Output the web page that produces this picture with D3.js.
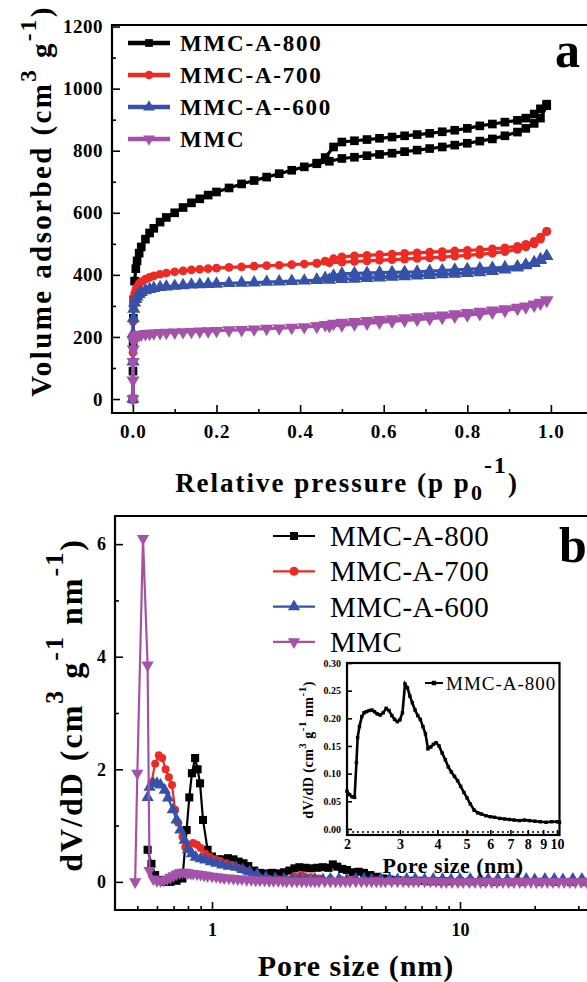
<!DOCTYPE html>
<html><head><meta charset="utf-8">
<script src="https://cdn.jsdelivr.net/npm/d3@7"></script>
<style>body{margin:0;background:#fff}svg{display:block}</style>
</head><body><svg id="c" width="587" height="982"></svg>
<script>
// ---------------- DATA ----------------
const legendA = ["MMC-A-800","MMC-A-700","MMC-A--600","MMC"];
const legendB = ["MMC-A-800","MMC-A-700","MMC-A-600","MMC"];
const colors = ["#000000","#ee2a24","#3551aa","#a452a9"];

// Panel a: N2 isotherms (relative pressure, volume adsorbed)
const adsP = [0,0.0002,0.0005,0.001,0.002,0.004,0.007,0.01,0.015,0.02,0.03,0.04,0.05,0.065,0.08,0.1,0.12,0.14,0.16,0.18,0.2,0.23,0.26,0.29,0.32,0.35,0.38,0.41,0.44,0.47,0.5,0.53,0.56,0.59,0.62,0.65,0.68,0.71,0.74,0.77,0.8,0.83,0.86,0.89,0.92,0.94,0.96,0.975,0.99];
const ads800 = [0,90,180,260,320,380,420,445,470,490,515,535,550,570,585,600,617,632,645,657,667,680,693,704,715,726,737,748,758,766,775,779,784,788,792,797,802,807,812,818,824,831,838,848,860,872,888,905,945];
const ads700 = [0,150,250,300,320,340,352,362,372,378,386,392,397,402,406,410,413,416,418,420,422,424,426,428,430,431,433,435,437,439,441,443,445,447,449,451,453,455,457,460,463,466,470,475,482,490,500,515,540];
const ads600 = [0,120,210,260,290,310,322,330,338,344,350,354,357,360,362,364,366,368,369,370,371,373,374,375,377,378,380,381,383,384,386,387,389,391,393,395,397,399,401,403,405,408,412,417,423,430,438,447,460];
const adsMMC = [0,60,120,160,185,198,203,205,207,208,210,211,212,213,214,215,216,217,218,219,220,222,223,225,227,228,230,232,234,236,238,241,244,247,250,253,256,259,262,266,270,274,279,285,291,296,302,308,318];
const desP = [0.99,0.975,0.96,0.94,0.92,0.89,0.86,0.83,0.8,0.77,0.74,0.71,0.68,0.65,0.62,0.59,0.56,0.53,0.5,0.48,0.46,0.44];
const des800 = [950,935,918,905,898,892,886,880,872,866,861,856,852,848,844,840,836,832,828,812,778,760];
const des700 = [540,522,508,498,492,487,484,481,479,477,475,473,471,469,467,465,463,461,458,452,444,438];
const des600 = [460,450,440,432,427,424,422,420,418,416,414,412,410,409,408,407,406,405,403,397,390,384];
const desMMC = [318,311,305,299,295,290,286,282,278,274,270,267,264,261,258,255,252,249,246,243,239,235];

// Panel b: pore size distributions (pore size nm, dV/dD)
const pore800 = [0.55,0.57,0.59,0.62,0.65,0.68,0.72,0.76,0.79,0.81,0.83,0.855,0.875,0.895,0.92,0.96,1.0,1.05,1.1,1.16,1.22,1.28,1.34,1.4,1.48,1.56,1.65,1.75,1.85,1.95,2.05,2.15,2.25,2.38,2.5,2.65,2.8,2.95,3.07,3.2,3.35,3.5,3.7,3.9,4.1,4.35,4.6,4.9,5.2,5.6,6.0,6.5,7.0,7.6,8.3,9.0,10,11,12.5,14,16,18,21,24,28,32,37,43,50];
const dv800 = [0.57,0.32,0.12,0.03,0.0,0.0,0.02,0.06,0.92,1.5,1.93,2.2,2.0,1.75,1.1,0.57,0.45,0.4,0.4,0.42,0.4,0.36,0.33,0.28,0.2,0.16,0.15,0.16,0.15,0.17,0.2,0.24,0.26,0.25,0.24,0.25,0.26,0.25,0.31,0.27,0.23,0.21,0.17,0.18,0.16,0.12,0.09,0.06,0.04,0.03,0.02,0.02,0.02,0.01,0.01,0.01,0.01,0.01,0,0,0,0,0,0,0,0,0,0,0];
const pore700 = [0.57,0.59,0.61,0.63,0.65,0.67,0.69,0.71,0.73,0.76,0.78,0.81,0.84,0.87,0.9,0.94,0.98,1.03,1.08,1.14,1.2,1.27,1.35,1.45,1.55,1.7,1.85,2.0,2.15,2.3,2.5,2.7,3.0,3.3,3.7,4.1,4.6,5.2,5.9,6.7,7.6,8.6,9.8,11,12.5,14,16,18,21,24,28,32,37,43,50];
const dv700 = [1.77,2.1,2.25,2.2,2.0,1.86,1.72,1.28,1.05,0.8,0.62,0.66,0.69,0.66,0.6,0.5,0.44,0.4,0.37,0.33,0.3,0.25,0.2,0.12,0.08,0.05,0.04,0.05,0.1,0.12,0.08,0.06,0.05,0.04,0.04,0.03,0.03,0.02,0.02,0.02,0.01,0.01,0.01,0.01,0.01,0,0,0,0,0,0,0,0,0,0];
const pore600 = [0.55,0.56,0.58,0.6,0.62,0.645,0.665,0.695,0.72,0.745,0.775,0.8,0.83,0.86,0.9,0.94,0.99,1.04,1.1,1.17,1.25,1.33,1.42,1.52,1.65,1.8,1.95,2.1,2.25,2.4,2.6,2.8,3.0,3.25,3.5,3.8,4.1,4.4,4.8,5.2,5.6,6.1,6.6,7.2,7.8,8.5,9.2,10,11,12,13,14.2,15.5,17,18.5,20,22,24,26,28.5,31,34,37,40,44,48];
const dv600 = [1.5,1.68,1.75,1.75,1.72,1.63,1.49,1.28,1.1,0.92,0.74,0.57,0.5,0.44,0.41,0.39,0.36,0.33,0.3,0.28,0.26,0.22,0.18,0.13,0.08,0.06,0.05,0.05,0.06,0.05,0.05,0.04,0.05,0.05,0.04,0.05,0.05,0.04,0.05,0.05,0.04,0.05,0.05,0.04,0.05,0.05,0.04,0.05,0.05,0.04,0.05,0.05,0.04,0.05,0.05,0.04,0.05,0.05,0.04,0.05,0.05,0.04,0.05,0.05,0.04,0.05];
const poreMMC = [0.49,0.5,0.527,0.55,0.56,0.58,0.6,0.62,0.64,0.66,0.68,0.7,0.72,0.74,0.76,0.78,0.8,0.82,0.84,0.87,0.9,0.93,0.96,1.0,1.04,1.08,1.12,1.17,1.22,1.27,1.32,1.38,1.44,1.5,1.56,1.63,1.7,1.77,1.85,1.93,2.0,2.1,2.2,2.3,2.4,2.5,2.6,2.7,2.85,3.0,3.15,3.3,3.45,3.6,3.8,4.0,4.2,4.4,4.6,4.8,5.0,5.3,5.6,5.9,6.2,6.5,6.8,7.2,7.6,8.0,8.4,8.8,9.3,9.8,10.3,10.9,11.5,12.1,12.7,13.4,14.1,14.9,15.7,16.5,17.4,18.3,19.3,20.3,21.4,22.5,23.7,25,26.3,27.7,29.2,30.8,32.4,34.1,36,38,40];
const dvMMC = [0,1.93,6.1,3.85,0.2,0.05,0.02,0.02,0.03,0.05,0.08,0.11,0.14,0.16,0.17,0.17,0.16,0.15,0.15,0.14,0.13,0.12,0.11,0.1,0.09,0.08,0.07,0.07,0.06,0.05,0.05,0.04,0.04,0.03,0.03,0.03,0.02,0.02,0.02,0.02,0.01,0.01,0.01,0.01,0.01,0.01,0.01,0.01,0.01,0.01,0.01,0.01,0.01,0.01,0.01,0.01,0.01,0.01,0.01,0.01,0.01,0.01,0.01,0.01,0.01,0.01,0.01,0.01,0.01,0.01,0,0,0,0,0,0,0,0,0,0,0,0,0,0,0,0,0,0,0,0,0,0,0,0,0,0,0,0,0,0,0];

// Inset: MMC-A-800 mesopore region
const insetPore = [2.0,2.04,2.08,2.12,2.15,2.17,2.2,2.24,2.28,2.32,2.37,2.42,2.47,2.52,2.58,2.64,2.7,2.76,2.82,2.88,2.94,3.0,3.06,3.12,3.18,3.24,3.3,3.37,3.44,3.51,3.58,3.65,3.72,3.8,3.88,3.96,4.05,4.15,4.25,4.35,4.45,4.56,4.67,4.78,4.9,5.02,5.15,5.3,5.45,5.6,5.8,6.0,6.2,6.45,6.7,6.95,7.2,7.5,7.8,8.1,8.45,8.8,9.2,9.6,10.0,10.2];
const insetDv = [0.068,0.062,0.058,0.057,0.12,0.165,0.185,0.203,0.21,0.212,0.214,0.215,0.212,0.208,0.206,0.21,0.218,0.214,0.205,0.198,0.194,0.197,0.21,0.262,0.255,0.24,0.228,0.215,0.205,0.198,0.185,0.172,0.145,0.148,0.153,0.156,0.15,0.137,0.125,0.112,0.103,0.095,0.087,0.077,0.066,0.056,0.045,0.034,0.029,0.027,0.024,0.022,0.021,0.019,0.018,0.017,0.016,0.015,0.016,0.015,0.014,0.013,0.012,0.013,0.013,0.012];

// Ticks
const xTicksA = [0,0.2,0.4,0.6,0.8,1.0];
const xMinorA = [0.1,0.3,0.5,0.7,0.9];
const yTicksA = [0,200,400,600,800,1000,1200];
const yMinorA = [100,300,500,700,900,1100];
const xTicksB = [1,10];
const xMinorB = [0.5,0.6,0.7,0.8,0.9,2,3,4,5,6,7,8,9,20,30,40,50];
const yTicksB = [0,2,4,6];
const yMinorB = [1,3,5];
const xTicksI = [2,3,4,5,6,7,8,9,10];
const yTicksI = [0,0.05,0.10,0.15,0.20,0.25,0.30];

// ---------------- DRAW ----------------
const FONT = "'Liberation Serif','Times New Roman',Times,serif";
const svg = d3.select("#c");
svg.append("rect").attr("width",587).attr("height",982).attr("fill","#fff");

const symTypes = [d3.symbolSquare, d3.symbolCircle, d3.symbolTriangle, d3.symbolTriangle];
const symRot = [0,0,0,180];

function styleAxis(g, size, weight, ls) {
  g.select(".domain").remove();
  g.selectAll(".tick line").attr("stroke","#000").attr("stroke-width",1.6);
  g.selectAll(".tick text").attr("font-family",FONT).attr("font-size",size)
    .attr("font-weight",weight).attr("fill","#000").attr("letter-spacing",ls||0);
}
function drawMarkers(g, pts, i, size, sx, sy) {
  const gen = d3.symbol().type(symTypes[i]).size(size);
  g.selectAll(null).data(pts).enter().append("path")
    .attr("d", gen)
    .attr("transform", d => `translate(${sx(d[0])},${sy(d[1])}) rotate(${symRot[i]})`)
    .attr("fill", colors[i]);
}

// ===== Panel a =====
const xA = d3.scaleLinear().domain([-0.05,1.1]).range([112,592.7]);
const yA = d3.scaleLinear().domain([-45,1205]).range([413,25]);
const gA = svg.append("g");

const ads = [ads800, ads700, ads600, adsMMC];
const des = [des800, des700, des600, desMMC];
const lineA = d3.line().x(d=>xA(d[0])).y(d=>yA(d[1]));
for (let i=0;i<4;i++){
  const pts = adsP.map((p,j)=>[p, ads[i][j]]).concat(desP.map((p,j)=>[p, des[i][j]]));
  gA.append("path").attr("d", lineA(pts)).attr("fill","none")
    .attr("stroke",colors[i]).attr("stroke-width",3.2).attr("stroke-linejoin","round");
  drawMarkers(gA, pts, i, i===1?60:75, xA, yA);
}

gA.append("g").attr("transform","translate(0,413)")
  .call(d3.axisBottom(xA).tickValues(xTicksA).tickSize(-8).tickPadding(12).tickFormat(d3.format(".1f")))
  .call(g=>styleAxis(g,19,"bold",1));
gA.append("g").attr("transform","translate(0,413)")
  .call(d3.axisBottom(xA).tickValues(xMinorA).tickSize(-4).tickFormat(""))
  .call(g=>styleAxis(g,19,"bold"));
gA.append("g").attr("transform","translate(112,0)")
  .call(d3.axisLeft(yA).tickValues(yTicksA).tickSize(-8).tickPadding(9).tickFormat(d3.format("d")))
  .call(g=>styleAxis(g,19,"bold",0.5));
gA.append("g").attr("transform","translate(112,0)")
  .call(d3.axisLeft(yA).tickValues(yMinorA).tickSize(-4).tickFormat(""))
  .call(g=>styleAxis(g,19,"bold"));
gA.append("path").attr("d","M600,25H112V413H600").attr("fill","none")
  .attr("stroke","#000").attr("stroke-width",2.2);

// legend a
legendA.forEach((name,i)=>{
  const y = 43 + i*32;
  gA.append("line").attr("x1",128).attr("x2",170).attr("y1",y).attr("y2",y)
    .attr("stroke",colors[i]).attr("stroke-width",4.5);
  drawMarkers(gA, [[149,y]], i, 60, d=>d, d=>d);
  gA.append("text").attr("x",180).attr("y",y).attr("dy","0.35em")
    .attr("font-family",FONT).attr("font-weight","bold").attr("font-size",23)
    .attr("letter-spacing",1.8).text(name);
});
gA.append("text").attr("x",555).attr("y",67).attr("font-family",FONT)
  .attr("font-weight","bold").attr("font-size",50).text("a");

// axis titles a
{
  const t = svg.append("text").attr("transform","translate(51,201) rotate(-90)")
    .attr("text-anchor","middle").attr("font-family",FONT).attr("font-weight","bold")
    .attr("font-size",29).attr("letter-spacing",2.4);
  t.append("tspan").text("Volume adsorbed (cm");
  t.append("tspan").attr("dy",-15).attr("font-size",23).text("3");
  t.append("tspan").attr("dy",15).text(" g");
  t.append("tspan").attr("dy",-15).attr("font-size",23).text("-1");
  t.append("tspan").attr("dy",15).text(")");
}
{
  const t = svg.append("text").attr("x",347).attr("y",492)
    .attr("text-anchor","middle").attr("font-family",FONT).attr("font-weight","bold")
    .attr("font-size",27).attr("letter-spacing",2);
  t.append("tspan").text("Relative pressure (p p");
  t.append("tspan").attr("dy",8).attr("font-size",22).text("0");
  t.append("tspan").attr("dy",-27).attr("font-size",24).text("-1");
  t.append("tspan").attr("dy",19).text(")");
}

// ===== Panel b =====
const xB = d3.scaleLog().domain([0.406,60]).range([114.9,653]);
const yB = d3.scaleLinear().domain([-0.5,6.5]).range([910,516]);
const gB = svg.append("g");
const pores = [pore800, pore700, pore600, poreMMC];
const dvs = [dv800, dv700, dv600, dvMMC];
const lineB = d3.line().x(d=>xB(d[0])).y(d=>yB(d[1]));
for (let i=0;i<4;i++){
  const pts = pores[i].map((p,j)=>[p, dvs[i][j]]);
  gB.append("path").attr("d", lineB(pts)).attr("fill","none")
    .attr("stroke",colors[i]).attr("stroke-width",2.2).attr("stroke-linejoin","round");
  drawMarkers(gB, pts, i, i===1?50:65, xB, yB);
}
gB.append("g").attr("transform","translate(0,910)")
  .call(d3.axisBottom(xB).tickValues(xTicksB).tickSize(-8).tickPadding(13).tickFormat(d3.format("d")))
  .call(g=>styleAxis(g,18,"bold"));
gB.append("g").attr("transform","translate(0,910)")
  .call(d3.axisBottom(xB).tickValues(xMinorB).tickSize(-4).tickFormat(""))
  .call(g=>styleAxis(g,18,"bold"));
gB.append("g").attr("transform","translate(115,0)")
  .call(d3.axisLeft(yB).tickValues(yTicksB).tickSize(-8).tickPadding(9).tickFormat(d3.format("d")))
  .call(g=>styleAxis(g,18,"bold"));
gB.append("g").attr("transform","translate(115,0)")
  .call(d3.axisLeft(yB).tickValues(yMinorB).tickSize(-4).tickFormat(""))
  .call(g=>styleAxis(g,18,"bold"));
gB.append("path").attr("d","M600,516H115V910H600").attr("fill","none")
  .attr("stroke","#000").attr("stroke-width",2.2);

legendB.forEach((name,i)=>{
  const y = 536 + i*35.3;
  gB.append("line").attr("x1",273).attr("x2",315).attr("y1",y).attr("y2",y)
    .attr("stroke",colors[i]).attr("stroke-width",2.2);
  drawMarkers(gB, [[294,y]], i, 65, d=>d, d=>d);
  gB.append("text").attr("x",330).attr("y",y).attr("dy","0.35em")
    .attr("font-family",FONT).attr("font-size",29).attr("letter-spacing",0.5).text(name);
});
gB.append("text").attr("x",559).attr("y",562).attr("font-family",FONT)
  .attr("font-weight","bold").attr("font-size",50).text("b");

{
  const t = svg.append("text").attr("transform","translate(82,705) rotate(-90)")
    .attr("text-anchor","middle").attr("font-family",FONT).attr("font-weight","bold")
    .attr("font-size",32).attr("letter-spacing",2);
  t.append("tspan").text("dV/dD (cm");
  t.append("tspan").attr("dy",-19).attr("font-size",26).text("3");
  t.append("tspan").attr("dy",19).text(" g");
  t.append("tspan").attr("dy",-19).attr("font-size",26).text("-1");
  t.append("tspan").attr("dy",19).text(" nm");
  t.append("tspan").attr("dy",-19).attr("font-size",26).text("-1");
  t.append("tspan").attr("dy",19).text(")");
}
svg.append("text").attr("x",356).attr("y",976).attr("text-anchor","middle")
  .attr("font-family",FONT).attr("font-weight","bold").attr("font-size",30)
  .attr("letter-spacing",1).text("Pore size (nm)");

// ===== Inset =====
const xI = d3.scaleLog().domain([2,10.2]).range([347,559.5]);
const yI = d3.scaleLinear().domain([-0.011,0.30]).range([835,663]);
const gI = svg.append("g");
gI.append("rect").attr("x",347).attr("y",663).attr("width",212.5).attr("height",172).attr("fill","#fff");
gI.append("line").attr("x1",347).attr("x2",559.5).attr("y1",yI(0)+3).attr("y2",yI(0)+3)
  .attr("stroke","#000").attr("stroke-width",1.5).attr("stroke-dasharray","2,3");
const ptsI = insetPore.map((p,j)=>[p, insetDv[j]]);
gI.append("path").attr("d", d3.line().x(d=>xI(d[0])).y(d=>yI(d[1]))(ptsI))
  .attr("fill","none").attr("stroke","#000").attr("stroke-width",2.6);
drawMarkers(gI, ptsI, 0, 12, xI, yI);
gI.append("g").attr("transform","translate(0,835)")
  .call(d3.axisBottom(xI).tickValues(xTicksI).tickSize(-5).tickPadding(4).tickFormat(d3.format("d")))
  .call(g=>styleAxis(g,14,"bold"));
gI.append("g").attr("transform","translate(347,0)")
  .call(d3.axisLeft(yI).tickValues(yTicksI).tickSize(-5).tickPadding(6).tickFormat(d3.format(".2f")))
  .call(g=>styleAxis(g,10,"bold"));
gI.append("rect").attr("x",347).attr("y",663).attr("width",212.5).attr("height",172)
  .attr("fill","none").attr("stroke","#000").attr("stroke-width",2.2);
gI.append("line").attr("x1",425).attr("x2",443).attr("y1",683).attr("y2",683)
  .attr("stroke","#000").attr("stroke-width",2);
drawMarkers(gI, [[434,683]], 0, 20, d=>d, d=>d);
gI.append("text").attr("x",446).attr("y",683).attr("dy","0.35em")
  .attr("font-family",FONT).attr("font-size",19).attr("letter-spacing",1).text("MMC-A-800");
gI.append("text").attr("x",453).attr("y",873).attr("text-anchor","middle")
  .attr("font-family",FONT).attr("font-weight","bold").attr("font-size",22)
  .attr("letter-spacing",0.5).text("Pore size (nm)");
{
  const t = gI.append("text").attr("transform","translate(313,750) rotate(-90)")
    .attr("text-anchor","middle").attr("font-family",FONT).attr("font-weight","bold")
    .attr("font-size",14).attr("letter-spacing",0.5);
  t.append("tspan").text("dV/dD (cm");
  t.append("tspan").attr("dy",-7).attr("font-size",11).text("3");
  t.append("tspan").attr("dy",7).text(" g");
  t.append("tspan").attr("dy",-7).attr("font-size",11).text("-1");
  t.append("tspan").attr("dy",7).text(" nm");
  t.append("tspan").attr("dy",-7).attr("font-size",11).text("-1");
  t.append("tspan").attr("dy",7).text(")");
}
</script></body></html>
